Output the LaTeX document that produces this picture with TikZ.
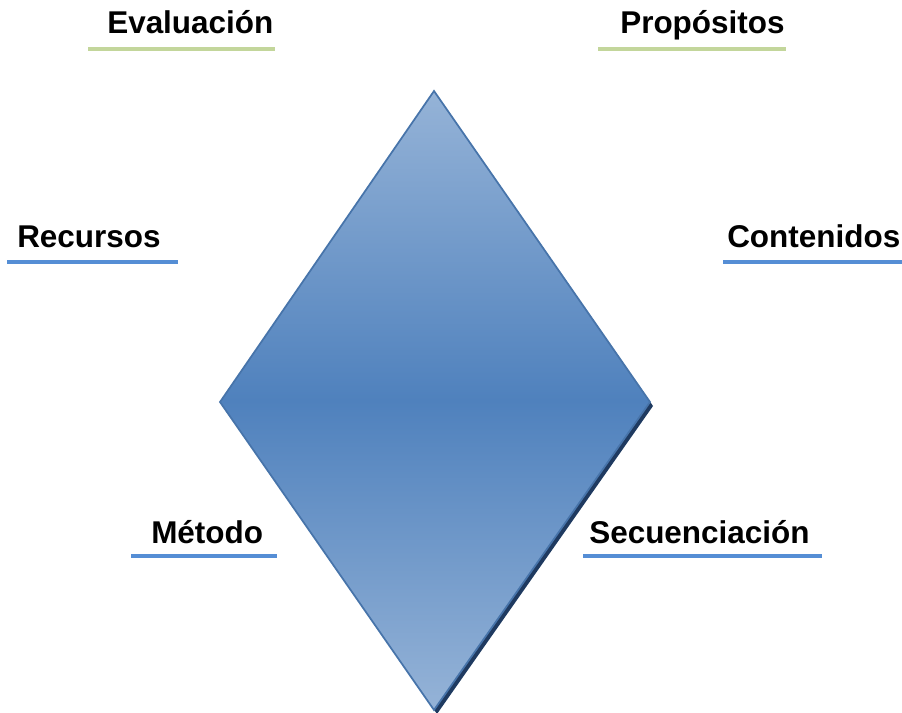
\documentclass[tikz,border=0pt]{standalone}
\usepackage{fontspec}
\setmainfont{Liberation Sans}
\usepackage{xcolor}
\definecolor{diamondmid}{HTML}{4F81BD}
\definecolor{diamondlight}{HTML}{95B3D7}
\definecolor{diamondshadow}{HTML}{1F3A60}
\definecolor{linegreen}{HTML}{C3D69B}
\definecolor{lineblue}{HTML}{558ED5}

\begin{document}
\begin{tikzpicture}[x=0.75pt, y=-0.75pt,
    every node/.style={font=\fontsize{23.6}{28}\selectfont\bfseries, inner sep=0pt, anchor=base west},
    greenline/.style={linegreen, line width=3pt},
    blueline/.style={lineblue, line width=3pt}]
    \useasboundingbox (0,0) rectangle (902,713);
    % Diamond corners
    \coordinate (top) at (434,91);
    \coordinate (left) at (220,402);
    \coordinate (right) at (650,402);
    \coordinate (bottom) at (434,710);
    \fill[diamondshadow] ([shift={(3,4)}]top) -- ([shift={(3,4)}]right)
        -- ([shift={(3,4)}]bottom) -- ([shift={(3,4)}]left) -- cycle; % Shadow
    \draw[diamondmid!90!black, line width=1.3pt, top color=diamondlight,
        bottom color=diamondlight, middle color=diamondmid]
        (top) -- (right) -- (bottom) -- (left) -- cycle;
    % Labels
    \node (eval) at (107,34) {Evaluación};
    \node (prop) at (620,34) {Propósitos};
    \node (recu) at (17,247) {Recursos};
    \node (cont) at (727,247) {Contenidos};
    \node (meto) at (151,543) {Método};
    \node (secu) at (589,543) {Secuenciación};
    % Underlines
    \draw[greenline] (88,49) -- (275,49);
    \draw[greenline] (598,49) -- (786,49);
    \draw[blueline] (7,262) -- (178,262);
    \draw[blueline] (723,262) -- (902,262);
    \draw[blueline] (131,556) -- (277,556);
    \draw[blueline] (583,556) -- (822,556);
\end{tikzpicture}
\end{document}
